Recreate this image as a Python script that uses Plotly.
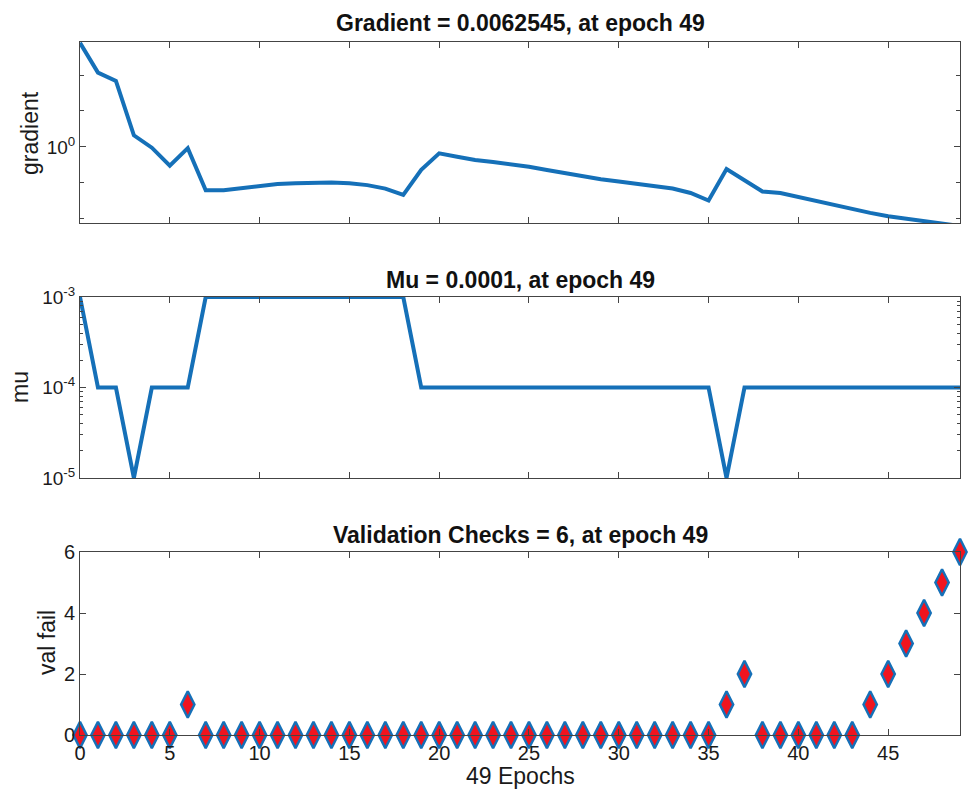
import plotly.graph_objects as go

# ---------------- data ----------------
epochs = [0, 1, 2, 3, 4, 5, 6, 7, 8, 9, 10, 11, 12, 13, 14, 15, 16, 17, 18, 19,
          20, 21, 22, 23, 24, 25, 26, 27, 28, 29, 30, 31, 32, 33, 34, 35, 36, 37, 38, 39,
          40, 41, 42, 43, 44, 45, 46, 47, 48, 49]

gradient = [790, 117, 69, 2.1, 0.95, 0.30, 0.92, 0.062, 0.062, 0.071,
            0.082, 0.093, 0.097, 0.102, 0.102, 0.097, 0.086, 0.069, 0.046, 0.23,
            0.66, 0.53, 0.43, 0.38, 0.33, 0.28, 0.227, 0.184, 0.149, 0.126,
            0.108, 0.093, 0.082, 0.069, 0.052, 0.032, 0.242, 0.12, 0.057, 0.052,
            0.040, 0.030, 0.023, 0.0179, 0.0145, 0.0117, 0.0101, 0.0087, 0.0077, 0.0062545]

mu = [1e-3, 1e-4, 1e-4, 1e-5, 1e-4, 1e-4, 1e-4, 1e-3, 1e-3, 1e-3,
      1e-3, 1e-3, 1e-3, 1e-3, 1e-3, 1e-3, 1e-3, 1e-3, 1e-3, 1e-4,
      1e-4, 1e-4, 1e-4, 1e-4, 1e-4, 1e-4, 1e-4, 1e-4, 1e-4, 1e-4,
      1e-4, 1e-4, 1e-4, 1e-4, 1e-4, 1e-4, 1e-5, 1e-4, 1e-4, 1e-4,
      1e-4, 1e-4, 1e-4, 1e-4, 1e-4, 1e-4, 1e-4, 1e-4, 1e-4, 1e-4]

val_fail = [0, 0, 0, 0, 0, 0, 1, 0, 0, 0,
            0, 0, 0, 0, 0, 0, 0, 0, 0, 0,
            0, 0, 0, 0, 0, 0, 0, 0, 0, 0,
            0, 0, 0, 0, 0, 0, 1, 2, 0, 0,
            0, 0, 0, 0, 1, 2, 3, 4, 5, 6]

titles = ["Gradient = 0.0062545, at epoch 49",
          "Mu = 0.0001, at epoch 49",
          "Validation Checks = 6, at epoch 49"]
ylabels = ["gradient", "mu", "val fail"]
xlabel = "49 Epochs"
x_ticks = [0, 5, 10, 15, 20, 25, 30, 35, 40, 45]

grad_major = [1]
grad_major_text = ["10<sup>0</sup>"]
grad_minor = [0.01, 0.1, 10, 100]
mu_major = [1e-5, 1e-4, 1e-3]
mu_major_text = ["10<sup>-5</sup>", "10<sup>-4</sup>", "10<sup>-3</sup>"]
mu_minor = [2e-5, 3e-5, 4e-5, 5e-5, 6e-5, 7e-5, 8e-5, 9e-5,
            2e-4, 3e-4, 4e-4, 5e-4, 6e-4, 7e-4, 8e-4, 9e-4]
vf_ticks = [0, 2, 4, 6]

# ---------------- style ----------------
BLUE = "#1570b8"
AX = "#444444"
FONT = "Liberation Sans"
W, H = 968, 795
ML, MT = 80, 42
MR = W - 960
MB = H - 735
PH = H - MT - MB
PW = W - ML - MR


def py(ypix):
    """page y pixel -> paper fraction"""
    return (H - MB - ypix) / PH


def px(xpix):
    """page x pixel -> paper fraction"""
    return (xpix - ML) / PW


fig = go.Figure()
fig.add_trace(go.Scatter(x=epochs, y=gradient, mode="lines",
                         line=dict(color=BLUE, width=4), xaxis="x", yaxis="y",
                         cliponaxis=False))
fig.add_trace(go.Scatter(x=epochs, y=mu, mode="lines",
                         line=dict(color=BLUE, width=4), xaxis="x2", yaxis="y2",
                         cliponaxis=False))
fig.add_trace(go.Scatter(x=epochs, y=val_fail, mode="markers",
                         marker=dict(symbol="diamond-tall", size=19, color="#f0141e",
                                     line=dict(color=BLUE, width=2.5)),
                         xaxis="x3", yaxis="y3", cliponaxis=False))

common_x = dict(range=[0, 49], tickvals=x_ticks, ticks="inside", ticklen=6,
                tickcolor=AX, showline=True, linecolor=AX, linewidth=1,
                mirror="allticks", showgrid=False, zeroline=False)
common_y = dict(ticks="inside", ticklen=6, tickcolor=AX, showline=True,
                linecolor=AX, linewidth=1, mirror="allticks", showgrid=False,
                zeroline=False)

fig.update_layout(
    width=W, height=H,
    margin=dict(l=ML, r=MR, t=MT, b=MB, autoexpand=False),
    paper_bgcolor="white", plot_bgcolor="white",
    showlegend=False,
    font=dict(family=FONT, size=19, color="#1a1a1a"),
    xaxis=dict(common_x, domain=[0, 1], anchor="y", showticklabels=False),
    xaxis2=dict(common_x, domain=[0, 1], anchor="y2", showticklabels=False),
    xaxis3=dict(common_x, domain=[0, 1], anchor="y3", showticklabels=True,
                tickfont=dict(size=20)),
    yaxis=dict(common_y, type="log", domain=[py(223), py(42)],
               range=[-2.12, 2.92], tickvals=grad_major, ticktext=grad_major_text,
               tickfont=dict(size=19), anchor="x",
               minor=dict(tickvals=grad_minor, ticks="inside", ticklen=4,
                          tickcolor=AX, showgrid=False)),
    yaxis2=dict(common_y, type="log", domain=[py(478), py(297)],
                range=[-5, -3], tickvals=mu_major, ticktext=mu_major_text,
                tickfont=dict(size=19), anchor="x2",
                minor=dict(tickvals=mu_minor, ticks="inside", ticklen=3,
                           tickcolor=AX, showgrid=False)),
    yaxis3=dict(common_y, domain=[py(735), py(552)], range=[0, 6],
                tickvals=vf_ticks, tickfont=dict(size=20), anchor="x3"),
)

ann = []
for t, yp in zip(titles, [23, 280, 535]):
    ann.append(dict(text="<b>" + t + "</b>", x=0.5, y=py(yp), xref="paper", yref="paper",
                    xanchor="center", yanchor="middle", showarrow=False,
                    font=dict(size=23, family=FONT, color="#111111")))
for t, xp, yp in zip(ylabels, [30, 20, 47], [133, 387, 643]):
    ann.append(dict(text=t, x=px(xp), y=py(yp), xref="paper",
                    yref="paper", xanchor="center", yanchor="middle", textangle=-90,
                    showarrow=False, font=dict(size=23, family=FONT, color="#1a1a1a")))
ann.append(dict(text=xlabel, x=0.5, y=py(776), xref="paper", yref="paper",
                xanchor="center", yanchor="middle", showarrow=False,
                font=dict(size=23, family=FONT, color="#1a1a1a")))
fig.update_layout(annotations=ann)

# remove the default 8px page margin so the figure sits at the window origin
fig.write_html("out.html",
               config={"displayModeBar": False},
               post_script="document.body.style.margin='0';"
                           "document.body.style.overflow='hidden';")
